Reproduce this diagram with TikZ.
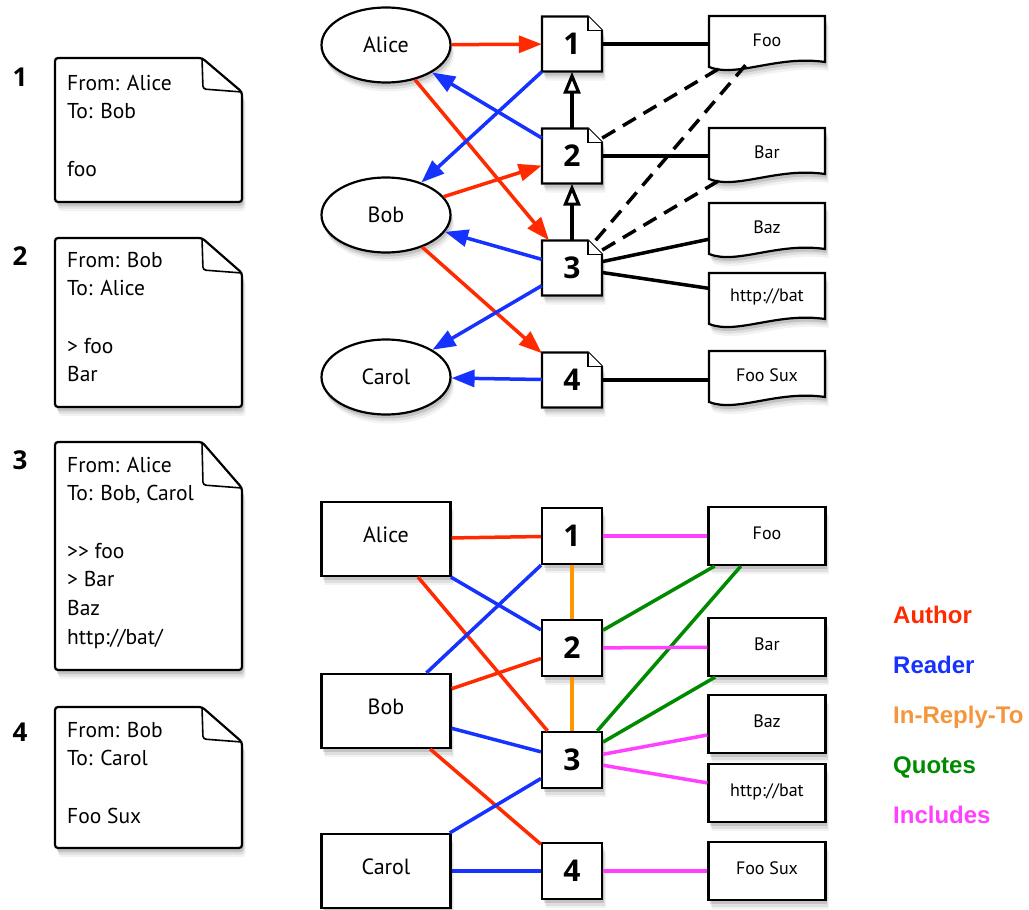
\documentclass[tikz,border=0pt]{standalone}
\usepackage{fontspec}
\setmainfont{PT Sans}
\newfontfamily\legfont{Liberation Sans}
\newfontfamily\heavyfont{Open Sans}
\usetikzlibrary{arrows.meta,shapes.geometric}
\definecolor{cred}{RGB}{255,42,0}
\definecolor{cblue}{RGB}{22,50,255}
\definecolor{corange}{RGB}{255,150,0}
\definecolor{clegor}{RGB}{245,150,60}
\definecolor{cgreen}{RGB}{0,138,0}
\definecolor{cmag}{RGB}{255,64,255}
\tikzset{
  softshadow/.style={
    preaction={fill=black,opacity=.12,transform canvas={xshift=1.5pt,yshift=-4pt}},
    preaction={fill=black,opacity=.08,transform canvas={xshift=2.5pt,yshift=-6.5pt}},
    preaction={fill=black,opacity=.05,transform canvas={xshift=3.5pt,yshift=-9pt}}},
  outline/.style={draw=black,line width=2.2pt,fill=white,softshadow},
  person/.style={ellipse,outline,minimum width=129pt,minimum height=75pt,inner sep=0pt,
    font=\fontsize{22}{24}\selectfont},
  personbox/.style={rectangle,outline,minimum width=129pt,minimum height=74pt,inner sep=0pt,
    text height=16pt,text depth=10pt,font=\fontsize{22}{24}\selectfont},
  numnode/.style={rectangle,minimum width=60pt,minimum height=55pt,inner sep=0pt,
    font=\heavyfont\bfseries\fontsize{30}{30}\selectfont},
  numbox/.style={rectangle,outline,minimum width=60pt,minimum height=56pt,inner sep=0pt,
    font=\heavyfont\bfseries\fontsize{30}{30}\selectfont},
  wavenode/.style={rectangle,minimum width=116pt,minimum height=50pt,inner sep=0pt,
    font=\fontsize{18}{20}\selectfont},
  itembox/.style={rectangle,outline,minimum width=117pt,minimum height=58pt,inner sep=0pt,
    text height=13pt,text depth=6pt,font=\fontsize{18}{20}\selectfont},
  doctext/.style={anchor=base west,inner sep=0pt,font=\fontsize{21.5}{28.7}\selectfont},
  docnum/.style={anchor=base,inner sep=0pt,font=\heavyfont\bfseries\fontsize{26}{26}\selectfont},
  legend/.style={anchor=base west,inner sep=0pt,font=\legfont\fontsize{24}{26}\selectfont\bfseries},
  redarr/.style={draw=cred,line width=3.5pt,-{Triangle[length=23pt,width=17pt]}},
  bluearr/.style={draw=cblue,line width=3.5pt,-{Triangle[length=23pt,width=17pt]}},
  openarr/.style={draw=black,line width=3.5pt,-{Triangle[open,length=22pt,width=17pt,line width=3.2pt]}},
  blk/.style={draw=black,line width=3.5pt},
  dsh/.style={draw=black,line width=3.5pt,dash pattern=on 15pt off 9pt},
  redl/.style={draw=cred,line width=3.5pt},
  bluel/.style={draw=cblue,line width=3.5pt},
  orl/.style={draw=corange,line width=3.5pt},
  grl/.style={draw=cgreen,line width=3.5pt},
  magl/.style={draw=cmag,line width=3.5pt}
}
% left document outline: top, bottom, fold width, fold height
\newcommand\leftdocshape[4]{%
  \path[outline,rounded corners=3pt] (55,#1) -- (242-#3,#1) -- (242,#1+#4) -- (242,#2) -- (55,#2) -- cycle;
  \draw[line width=1.6pt,rounded corners=3pt] (242-#3,#1) -- (242-#3+1,#1+#4-3) -- (242,#1+#4);}
% small document node: name, x, y, label
\newcommand\smalldoc[4]{%
  \begin{scope}[shift={(#2,#3)}]
    \path[outline] (-30,-27.5) -- (16,-27.5) -- (30,-13.5) -- (30,27.5) -- (-30,27.5) -- cycle;
    \draw[line width=1.2pt,fill=white] (16,-27.5) -- (16,-13.5) -- (30,-13.5);
  \end{scope}
  \node[numnode] (#1) at (#2,#3) {#4};}
% wavy document node: name, x, y, label
\newcommand\wavydoc[4]{%
  \begin{scope}[shift={(#2,#3)}]
    \path[outline] (-58,-24) -- (58,-24) -- (58,22) .. controls (10,15) and (-30,38) .. (-58,27) -- cycle;
  \end{scope}
  \node[wavenode] (#1) at (#2,#3) {#4};}
\newcommand\docline[1]{\hbox{#1}}

\begin{document}
\begin{tikzpicture}[x=1pt,y=-1pt]
\useasboundingbox (0,0) rectangle (1029,910);
\fill[white] (0,0) rectangle (1029,910);

% ---------- left documents ----------
\leftdocshape{58}{202}{40}{34}
\node[docnum] (n1) at (20,86) {1};
\node[doctext] (d1) at (67,90) {\vtop{\docline{From: Alice}\docline{To: Bob}\vskip28.7pt\docline{foo}}};

\leftdocshape{238}{407}{40}{35}
\node[docnum] (n2) at (20,265) {2};
\node[doctext] (d2) at (67,267) {\vtop{\docline{From: Bob}\docline{To: Alice}\vskip28.7pt\docline{> foo}\docline{Bar}}};

\leftdocshape{442}{670}{40}{46}
\node[docnum] (n3) at (20,469) {3};
\node[doctext] (d3) at (67,472) {\vtop{\docline{From: Alice}\docline{To: Bob, Carol}\vskip28.7pt\docline{>{}> foo}\docline{> Bar}\docline{Baz}\docline{http://bat/}}};

\leftdocshape{707}{848}{40}{35}
\node[docnum] (n4) at (20,741) {4};
\node[doctext] (d4) at (67,737) {\vtop{\docline{From: Bob}\docline{To: Carol}\vskip28.7pt\docline{Foo Sux}}};

% ---------- top graph ----------
\node[person] (alice) at (386,45) {Alice};
\node[person] (bob) at (386,215) {Bob};
\node[person] (carol) at (386,377) {Carol};

\smalldoc{t1}{572}{44}{1}
\smalldoc{t2}{572}{156}{2}
\smalldoc{t3}{572}{268}{3}
\smalldoc{t4}{572}{380}{4}

\wavydoc{foo}{767}{40}{Foo}
\wavydoc{bar}{767}{152}{Bar}
\wavydoc{baz}{767}{227}{Baz}
\wavydoc{bat}{767}{297}{http://bat}
\wavydoc{foosux}{767}{375}{Foo Sux}

\draw[blk] (t1) -- (t1 -| foo.west);
\draw[blk] (t2) -- (t2 -| bar.west);
\draw[blk] (t3) -- (baz);
\draw[blk] (t3) -- (bat);
\draw[blk] (t4) -- (t4 -| foosux.west);
\draw[dsh] (t2) -- (foo);
\draw[dsh] (t3) -- (foo);
\draw[dsh] (t3) -- (bar);
\draw[openarr] (t2) -- (t1);
\draw[openarr] (t3) -- (t2);

\draw[redarr] (alice) -- (t1);
\draw[redarr] (alice) -- (t3);
\draw[redarr] (bob) -- (t2);
\draw[redarr] (bob) -- (t4);
\draw[bluearr] (t2) -- (alice);
\draw[bluearr] (t1) -- (bob);
\draw[bluearr] (t3) -- (bob);
\draw[bluearr] (t3) -- (carol);
\draw[bluearr] (t4) -- (carol);

% ---------- bottom graph ----------
\node[personbox] (alice2) at (386,539) {Alice};
\node[personbox] (bob2) at (386,711) {Bob};
\node[personbox] (carol2) at (386,871) {Carol};

\node[numbox] (b1) at (572,536) {1};
\node[numbox] (b2) at (572,648) {2};
\node[numbox] (b3) at (572,760) {3};
\node[numbox] (b4) at (572,871) {4};

\node[itembox] (foo2) at (767,536) {Foo};
\node[itembox] (bar2) at (767,647) {Bar};
\node[itembox] (baz2) at (767,724) {Baz};
\node[itembox] (bat2) at (767,793) {http://bat};
\node[itembox] (foosux2) at (767,871) {Foo Sux};

\draw[redl] (alice2) -- (b1);
\draw[redl] (alice2) -- (b3);
\draw[redl] (bob2) -- (b2);
\draw[redl] (bob2) -- (b4);
\draw[bluel] (alice2) -- (b2);
\draw[bluel] (b1) -- (bob2);
\draw[bluel] (bob2) -- (b3);
\draw[bluel] (b3) -- (carol2);
\draw[bluel] (carol2) -- (b4);
\draw[orl] (b1) -- (b2);
\draw[orl] (b2) -- (b3);
\draw[grl] (b2) -- (foo2);
\draw[grl] (b3) -- (foo2);
\draw[grl] (b3) -- (bar2);
\draw[magl] (b1) -- (foo2);
\draw[magl] (b2) -- (bar2);
\draw[magl] (b3) -- (baz2);
\draw[magl] (b3) -- (bat2);
\draw[magl] (b4) -- (foosux2);

% ---------- legend ----------
\node[legend,text=cred] (lauthor) at (893,623) {Author};
\node[legend,text=cblue] (lreader) at (893,673) {Reader};
\node[legend,text=clegor] (lreply) at (893,723) {In-Reply-To};
\node[legend,text=cgreen] (lquotes) at (893,773) {Quotes};
\node[legend,text=cmag] (lincl) at (893,823) {Includes};
\end{tikzpicture}
\end{document}
